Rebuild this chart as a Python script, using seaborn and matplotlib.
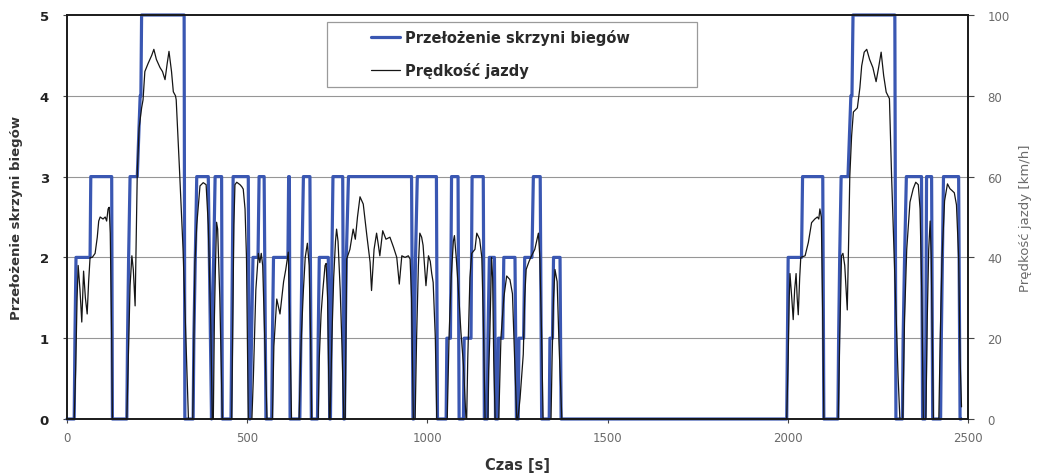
import matplotlib
matplotlib.use("Agg")
import matplotlib.pyplot as plt
from matplotlib.patches import Rectangle
from matplotlib.lines import Line2D
import seaborn as sns
import pandas as pd

# Gear ratio trace: vertices (time in s, gear number)
gear_time = [
    0, 20, 22, 25, 64, 66, 124, 126,
    166, 168, 171, 175, 195, 203, 205, 207, 325, 327,
    350, 352, 356, 360, 392, 401, 403, 407, 411, 429, 431,
    455, 457, 459, 461, 503, 506,
    508, 512, 516, 530, 533, 547, 552,
    568, 570, 573, 613, 615, 617, 619,
    646, 649, 652, 656, 674, 678,
    695, 697, 700, 725, 729,
    731, 733, 735, 738, 765, 768,
    770, 772, 775, 781, 956, 960,
    962, 964, 967, 972, 1025, 1028,
    1052, 1054, 1064, 1067, 1085, 1088,
    1100, 1102, 1121, 1124, 1155, 1158,
    1166, 1168, 1172, 1186, 1189,
    1195, 1197, 1209, 1212, 1243, 1247,
    1252, 1254, 1267, 1270, 1290, 1294, 1313, 1317,
    1338, 1340, 1347, 1350, 1368, 1371,
    1997, 1999, 2001, 2038, 2041, 2097, 2100,
    2139, 2141, 2144, 2148, 2167, 2175, 2178, 2181, 2297, 2300,
    2318, 2320, 2324, 2329, 2371, 2374,
    2381, 2383, 2385, 2399, 2402,
    2424, 2426, 2429, 2432, 2474, 2478, 2481,
]
gear_value = [
    0, 0, 1, 2, 2, 3, 3, 0,
    0, 1, 2, 3, 3, 4, 4, 5, 5, 0,
    0, 1, 2, 3, 3, 0, 1, 2, 3, 3, 0,
    0, 1, 2, 3, 3, 0,
    0, 1, 2, 2, 3, 3, 0,
    0, 1, 2, 2, 3, 3, 0,
    0, 1, 2, 3, 3, 0,
    0, 1, 2, 2, 0,
    0, 1, 2, 3, 3, 0,
    0, 1, 2, 3, 3, 0,
    0, 1, 2, 3, 3, 0,
    0, 1, 1, 3, 3, 0,
    0, 1, 1, 3, 3, 0,
    0, 1, 2, 2, 0,
    0, 1, 1, 2, 2, 0,
    0, 1, 1, 2, 2, 3, 3, 0,
    0, 1, 1, 2, 2, 0,
    0, 1, 2, 2, 3, 3, 0,
    0, 1, 2, 3, 3, 4, 4, 5, 5, 0,
    0, 1, 2, 3, 3, 0,
    0, 1, 3, 3, 0,
    0, 1, 2, 3, 3, 0, 0,
]

# Driving speed trace: (time in s, km/h)
speed_time = [
    0, 20, 24, 28, 31, 36, 41, 46, 51, 56, 60, 64, 70, 78, 84, 88, 92, 100, 106, 110, 114, 117, 120, 124, 126,
    166, 170, 175, 180, 184, 189, 192, 195, 200, 207, 211, 216, 225, 235, 241, 248, 258, 265, 272, 278, 283,
    290, 295, 301, 303, 312, 322, 330, 337,
    349, 352, 355, 360, 369, 378, 386, 392, 399, 403,
    406, 409, 412, 415, 418, 424, 431,
    457, 460, 463, 466, 471, 480, 485, 489, 494, 498, 503,
    513, 517, 524, 531, 535, 539, 543, 548, 555,
    570, 574, 582, 586, 591, 596, 601, 607, 614, 618, 623,
    644, 650, 656, 661, 667, 672, 676, 679,
    697, 700, 705, 710, 716, 719, 723, 728,
    730, 735, 740, 745, 748, 752, 758, 763, 768,
    772, 774, 776, 785, 794, 800, 806, 813, 822, 832, 841, 845, 852, 859, 864, 868, 876, 885, 896, 906,
    915, 922, 929, 938, 947, 952, 956, 961,
    966, 970, 975, 979, 984, 988, 996, 1003, 1008, 1012, 1016, 1022, 1026,
    1055, 1060, 1066, 1072, 1075, 1080, 1086, 1093, 1100, 1107,
    1109, 1112, 1118, 1123, 1132, 1137, 1145, 1151, 1155, 1160,
    1168, 1170, 1173, 1178, 1181, 1184, 1188,
    1198, 1201, 1204, 1212, 1220, 1229, 1236, 1242, 1248,
    1251, 1257, 1262, 1266, 1270, 1274, 1282, 1289, 1298, 1308, 1312, 1317, 1321,
    1343, 1346, 1350, 1354, 1360, 1365, 1373,
    1997, 2001, 2004, 2006, 2011, 2015, 2019, 2023, 2026, 2029, 2033, 2036, 2048, 2057, 2066, 2075, 2082,
    2086, 2089, 2093, 2097, 2100,
    2140, 2144, 2149, 2153, 2158, 2165, 2169, 2172, 2177, 2182, 2193, 2200, 2205, 2212, 2219, 2227, 2236,
    2245, 2252, 2259, 2266, 2273, 2282, 2288, 2297, 2306, 2311,
    2319, 2324, 2330, 2339, 2348, 2355, 2362, 2367, 2372, 2376,
    2383, 2387, 2391, 2395, 2398, 2401, 2404,
    2419, 2423, 2428, 2435, 2443, 2450, 2455, 2462, 2468, 2474, 2478, 2482,
]
speed_value = [
    0, 0, 12, 30, 38, 32, 24, 36.6, 30, 26, 34, 40, 40, 41, 45, 49, 50, 49.5, 50, 49, 52, 52.4, 46, 20, 0,
    0, 15, 33, 40.4, 37, 28, 45, 61, 72, 77, 79, 86, 88, 90, 91.5, 89, 87, 86, 84, 88, 91,
    86, 81, 80, 79, 62, 42, 20, 0,
    0, 20, 38.8, 48, 57.7, 58.5, 58, 48, 23, 0,
    0, 25, 38, 48.7, 47, 30, 0,
    0, 25, 48, 58, 58.6, 58, 57.5, 56.9, 52, 40, 0,
    0, 10, 32, 41, 38.7, 41, 38, 22, 0,
    0, 18, 29.7, 28, 26, 30, 34, 37, 41.3, 25, 0,
    0, 20, 32, 40, 43.5, 38, 20, 0,
    0, 15, 26, 32, 38, 38.5, 30, 0,
    0, 20, 35, 44, 47, 44, 32, 18, 0,
    0, 20, 39.6, 42, 47, 44.5, 50, 55, 53.2, 45.4, 38.8, 31.8, 42, 46, 43, 40.4, 46.6, 44.5, 45, 42.5,
    40, 33.4, 40.4, 40, 40.4, 39.6, 30, 0,
    0, 20, 38, 46, 45, 43, 33, 40.4, 39, 36, 33.8, 20, 0,
    0, 20, 35, 44, 45.4, 40, 32, 21.6, 13.4, 0,
    0, 15, 35, 41, 42, 46, 44.5, 40, 25, 0,
    0, 12, 20, 40, 35, 15, 0,
    0, 10, 20, 30, 35.4, 34.5, 31, 15, 0,
    0, 5, 11, 16, 30, 37, 39, 40.4, 42, 46, 40, 20, 0,
    0, 15, 30, 37, 34, 19, 0,
    0, 15, 30, 36, 30, 24.6, 32, 36, 30, 25.8, 35, 40, 40.4, 43.7, 48.6, 49.5, 50,
    49.5, 52, 50, 25, 0,
    0, 20, 40.4, 41, 38, 27, 45, 60, 70, 76, 77, 82, 87.4, 90.8, 91.5, 89, 87,
    83.5, 87, 90.8, 85, 80.9, 79.3, 60, 35.5, 10.6, 0,
    0, 25, 42, 53.7, 57, 58.6, 58, 52, 30, 0,
    0, 25, 42, 49, 40, 20, 0,
    0, 20, 40, 54, 58.2, 57, 56.6, 56, 53, 40, 15, 3,
]

x_ticks = [0, 500, 1000, 1500, 2000, 2500]
gear_ticks = [0, 1, 2, 3, 4, 5]
speed_ticks = [0, 20, 40, 60, 80, 100]

label_gear = "Przełożenie skrzyni biegów"
label_speed = "Prędkość jazdy"

gear_df = pd.DataFrame({"t": gear_time, "gear": gear_value})
speed_df = pd.DataFrame({"t": speed_time, "v": speed_value})

sns.set_theme(style="white")
plt.rcParams["font.family"] = ["DejaVu Sans"]

BLUE = "#3a57b2"
W, H = 1039, 477
fig = plt.figure(figsize=(W / 100, H / 100), dpi=100)
ax = fig.add_axes([67 / W, 57 / H, 901 / W, 404 / H])
ax2 = ax.twinx()

# horizontal grid shared by both scales
for g in [1, 2, 3, 4]:
    ax.axhline(g, color="#969696", lw=0.8, zorder=0.5)

sns.lineplot(data=gear_df, x="t", y="gear", ax=ax, color=BLUE, lw=2.3,
             estimator=None, sort=False, legend=False, clip_on=False, zorder=2)
sns.lineplot(data=speed_df, x="t", y="v", ax=ax2, color="#151515", lw=0.9,
             estimator=None, sort=False, legend=False, zorder=3)

ax.set_xlim(0, 2500)
ax.set_ylim(0, 5)
ax2.set_ylim(0, 100)
ax.set_xticks(x_ticks)
ax.set_yticks(gear_ticks)
ax2.set_yticks(speed_ticks)

for a in (ax, ax2):
    for s in a.spines.values():
        s.set_color("#1a1a1a")
        s.set_linewidth(1.2)

ax.tick_params(axis="x", direction="out", length=3, width=0.8, color="#444",
               labelsize=8.5, labelcolor="#6a6a6a", pad=6, bottom=True)
ax.tick_params(axis="y", direction="out", length=3, width=0.8, color="#444",
               labelsize=9.5, labelcolor="#222", pad=10, left=True)
ax2.tick_params(axis="y", direction="out", length=4, width=0.8, color="#444",
                labelsize=8.5, labelcolor="#6a6a6a", pad=10, right=True)
for lbl in ax.get_yticklabels():
    lbl.set_fontweight("bold")

ax.set_xlabel("Czas [s]", fontsize=10.5, fontweight="bold", color="#333", labelpad=9)
ax.set_ylabel(label_gear, fontsize=9.5, fontweight="bold", color="#333", labelpad=12)
ax2.set_ylabel("Prędkość jazdy [km/h]", fontsize=9.5, color="#6a6a6a", labelpad=7)

# legend box
box = Rectangle(((327 - 67) / 901, (420 - 88) / 404), (697 - 327) / 901, (88 - 23) / 404,
                transform=ax2.transAxes, facecolor="white", edgecolor="#9a9a9a",
                lw=0.9, zorder=5)
ax2.add_patch(box)
handles = [Line2D([], [], color=BLUE, lw=2.3), Line2D([], [], color="#151515", lw=0.9)]
leg = ax2.legend(handles, [label_gear, label_speed], loc="upper left",
                 bbox_to_anchor=((371 - 67) / 901, (420 - 30) / 404),
                 frameon=False, borderpad=0, borderaxespad=0, handlelength=2.0,
                 handletextpad=0.35, labelspacing=1.15,
                 prop={"size": 10.5, "weight": "bold"})
for t in leg.get_texts():
    t.set_color("#2a2a2a")
leg.set_zorder(6)

fig.savefig("out.png", dpi=100)
